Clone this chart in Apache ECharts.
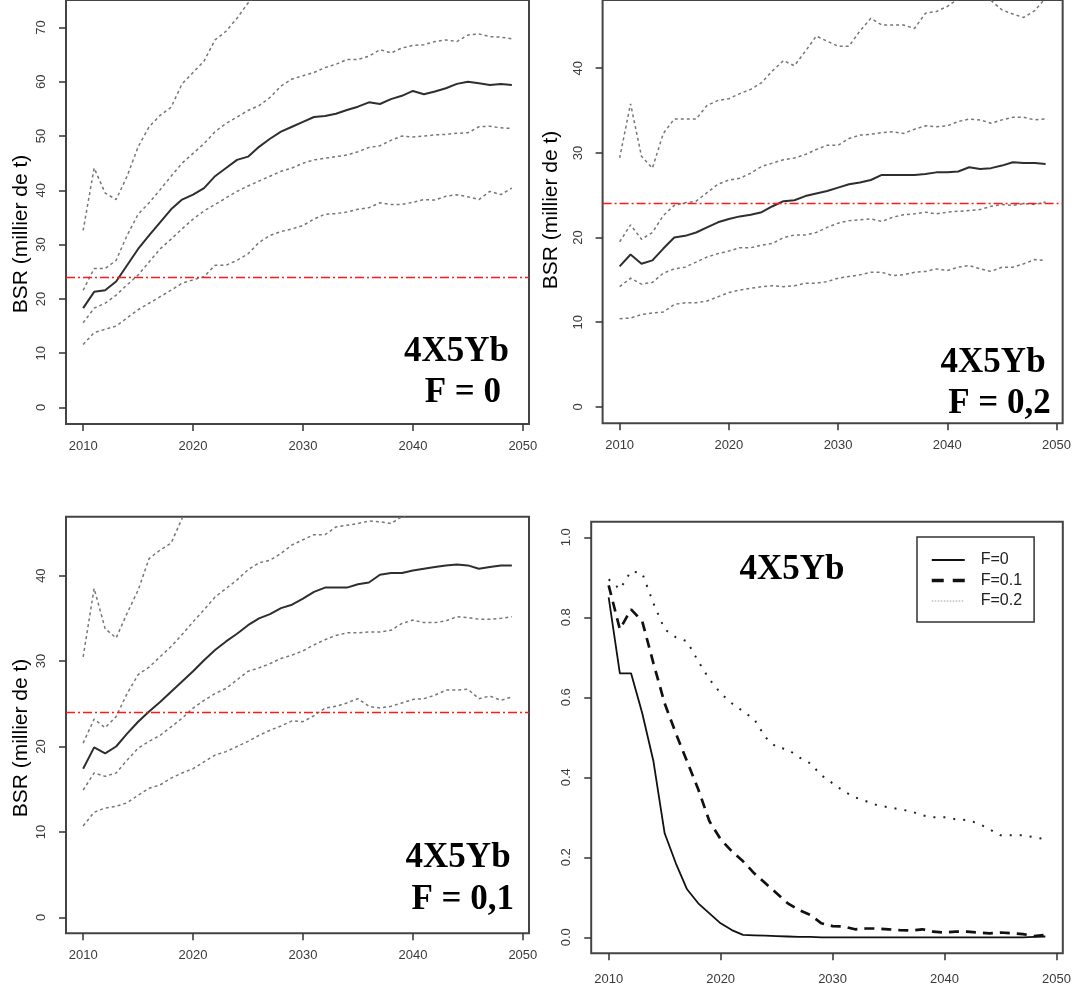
<!DOCTYPE html>
<html>
<head>
<meta charset="utf-8">
<title>BSR 4X5Yb</title>
<script src="https://cdn.jsdelivr.net/npm/echarts@6/dist/echarts.min.js"></script>
<style>
html, body { margin: 0; padding: 0; background: #fff; }
#main { width: 1074px; height: 987px; }
</style>
</head>
<body>
<div id="main"></div>
<script>
// années de projection
var years = [2010, 2011, 2012, 2013, 2014, 2015, 2016, 2017, 2018, 2019,
             2020, 2021, 2022, 2023, 2024, 2025, 2026, 2027, 2028, 2029,
             2030, 2031, 2032, 2033, 2034, 2035, 2036, 2037, 2038, 2039,
             2040, 2041, 2042, 2043, 2044, 2045, 2046, 2047, 2048, 2049];
var xTicks = [2010, 2020, 2030, 2040, 2050];
var blim = 24;   // ligne rouge

// F = 0
var p1Up97 = [32.6, 44.1, 39.5, 38.3, 42.6, 48.0, 51.7, 53.8, 55.3, 59.6, 61.7, 63.8, 67.7, 69.3, 71.7, 74.5, 76.5, 78.5, 80, 81.5,
              83, 84, 85, 86, 87, 88, 88.5, 89, 90, 90.5, 91, 91.5, 92, 92.3, 92.6, 93, 93.2, 93.5, 93.6, 93.8];
var p1Up75 = [21.6, 25.6, 25.6, 27.1, 31.7, 35.6, 37.7, 40.1, 42.6, 45.0, 46.8, 48.6, 50.8, 52.3, 53.5, 54.7, 55.6, 57.1, 59.2, 60.5,
              61.1, 61.7, 62.6, 63.2, 64.1, 64.1, 64.7, 65.9, 65.3, 66.2, 66.7, 66.8, 67.4, 67.7, 67.4, 68.6, 68.8, 68.3, 68.2, 67.9];
var p1Med  = [18.3, 21.3, 21.6, 23.2, 26.2, 29.2, 31.7, 34.1, 36.5, 38.3, 39.2, 40.4, 42.6, 44.1, 45.6, 46.2, 48.0, 49.5, 50.8, 51.7,
              52.6, 53.5, 53.7, 54.1, 54.8, 55.4, 56.2, 55.9, 56.8, 57.4, 58.3, 57.7, 58.2, 58.8, 59.6, 60.0, 59.7, 59.4, 59.6, 59.4];
var p1Lo25 = [15.6, 18.3, 19.2, 20.7, 22.6, 24.4, 26.8, 29.2, 31.0, 32.9, 34.7, 36.2, 37.4, 38.6, 39.8, 40.8, 41.7, 42.6, 43.5, 44.1,
              45.0, 45.6, 45.9, 46.2, 46.5, 47.1, 47.9, 48.2, 49.2, 50.0, 49.8, 50.0, 50.2, 50.3, 50.5, 50.6, 51.7, 51.8, 51.5, 51.4];
var p1Lo2  = [11.6, 13.8, 14.4, 15.0, 16.5, 18.0, 19.2, 20.4, 21.6, 22.9, 23.5, 24.1, 26.2, 26.2, 27.1, 28.3, 30.4, 31.7, 32.4, 32.9,
              33.5, 34.7, 35.6, 35.7, 36.0, 36.5, 36.8, 37.7, 37.4, 37.4, 37.8, 38.3, 38.2, 38.9, 39.2, 38.8, 38.3, 39.8, 39.2, 40.4];

// F = 0,2
var p2Up97 = [29.4, 35.8, 29.6, 28.2, 32.3, 34.0, 34.0, 34.0, 35.6, 36.2, 36.4, 37.0, 37.5, 38.3, 39.7, 40.9, 40.3, 42.0, 43.8, 43.2,
              42.6, 42.6, 44.4, 45.9, 45.1, 45.1, 45.1, 44.7, 46.5, 46.7, 47.3, 48.2, 48.6, 48.4, 48.0, 46.9, 46.4, 46.0, 46.8, 48.3];
var p2Up75 = [19.5, 21.5, 19.8, 20.6, 22.6, 23.8, 24.1, 24.3, 25.3, 26.3, 26.8, 27.0, 27.6, 28.4, 28.8, 29.2, 29.4, 29.8, 30.4, 30.9,
              30.9, 31.7, 32.1, 32.2, 32.4, 32.5, 32.3, 32.8, 33.2, 33.1, 33.2, 33.7, 34.0, 33.9, 33.5, 33.9, 34.2, 34.2, 33.9, 34.0];
var p2Med  = [16.6, 18.0, 16.9, 17.3, 18.7, 20.0, 20.2, 20.6, 21.2, 21.8, 22.2, 22.5, 22.7, 23.0, 23.7, 24.3, 24.4, 24.9, 25.2, 25.5,
              25.9, 26.3, 26.5, 26.8, 27.4, 27.4, 27.4, 27.4, 27.5, 27.7, 27.7, 27.8, 28.3, 28.1, 28.2, 28.5, 28.9, 28.8, 28.8, 28.7];
var p2Lo25 = [14.2, 15.2, 14.5, 14.7, 15.8, 16.3, 16.5, 17.1, 17.7, 18.1, 18.4, 18.8, 18.8, 19.1, 19.3, 20.0, 20.3, 20.3, 20.6, 21.2,
              21.7, 22.0, 22.1, 22.2, 21.9, 22.4, 22.7, 22.8, 23.0, 22.8, 23.0, 23.1, 23.2, 23.3, 23.7, 23.9, 23.8, 24.0, 23.9, 24.2];
var p2Lo2  = [10.4, 10.5, 10.9, 11.1, 11.2, 12.1, 12.3, 12.3, 12.5, 13.0, 13.5, 13.8, 14.0, 14.2, 14.3, 14.2, 14.3, 14.6, 14.6, 14.8,
              15.2, 15.4, 15.6, 15.9, 15.9, 15.5, 15.6, 15.9, 16.0, 16.3, 16.1, 16.5, 16.7, 16.3, 16.0, 16.5, 16.5, 16.9, 17.4, 17.3];

// F = 0,1
var p3Up97 = [30.5, 38.5, 33.8, 32.7, 35.6, 38.3, 42.0, 43.0, 43.8, 46.7, 48.5, 50, 51.5, 53, 54, 55, 56, 57, 58, 58.5,
              59, 59.5, 60, 60.5, 61, 61.3, 61.6, 62, 62.3, 62.6, 62.8, 63, 63.2, 63.4, 63.6, 63.8, 64, 64.1, 64.2, 64.3];
var p3Up75 = [20.4, 23.2, 22.2, 23.5, 26.2, 28.4, 29.3, 30.5, 31.7, 33.1, 34.6, 36.0, 37.5, 38.5, 39.5, 40.7, 41.5, 41.8, 42.6, 43.6,
              44.2, 44.8, 44.8, 45.7, 45.9, 46.1, 46.4, 46.3, 46.1, 46.9, 47.4, 47.8, 48.0, 48.4, 48.6, 48.8, 49.0, 49.2, 49.3, 49.5];
var p3Med  = [17.4, 19.9, 19.2, 20.0, 21.5, 22.9, 24.1, 25.2, 26.4, 27.6, 28.8, 30.1, 31.3, 32.3, 33.2, 34.2, 35.0, 35.5, 36.2, 36.6,
              37.3, 38.1, 38.6, 38.6, 38.6, 39.0, 39.2, 40.1, 40.3, 40.3, 40.6, 40.8, 41.0, 41.2, 41.3, 41.2, 40.8, 41.0, 41.2, 41.2];
var p3Lo25 = [14.9, 16.9, 16.5, 16.9, 18.4, 19.8, 20.6, 21.3, 22.3, 23.3, 24.5, 25.4, 26.2, 26.8, 27.8, 28.8, 29.2, 29.7, 30.3, 30.7,
              31.2, 31.9, 32.5, 33.0, 33.3, 33.3, 33.4, 33.4, 33.6, 34.4, 34.8, 34.5, 34.5, 34.7, 35.2, 35.1, 34.9, 34.9, 35.0, 35.2];
var p3Lo2  = [10.7, 12.3, 12.8, 13.0, 13.4, 14.3, 15.1, 15.5, 16.3, 16.9, 17.4, 18.2, 19.0, 19.4, 20.0, 20.6, 21.3, 21.9, 22.4, 23.0,
              22.9, 23.6, 24.5, 24.7, 25.1, 25.6, 24.7, 24.5, 24.7, 25.1, 25.5, 25.6, 26.0, 26.6, 26.6, 26.7, 25.6, 25.9, 25.4, 25.8];

// probabilité sous Blim
var probF0  = [0.85, 0.66, 0.66, 0.56, 0.44, 0.26, 0.185, 0.12, 0.085, 0.06, 0.035, 0.018, 0.006, 0.005, 0.004, 0.003, 0.002, 0.001, 0.001, 0,
               0, 0, 0, 0, 0, 0, 0, 0, 0, 0, 0, 0, 0, 0, 0, 0, 0, 0, 0.001, 0.002];
var probF01 = [0.88, 0.77, 0.82, 0.79, 0.685, 0.585, 0.51, 0.44, 0.37, 0.29, 0.245, 0.215, 0.19, 0.16, 0.135, 0.11, 0.085, 0.068, 0.056, 0.035,
               0.028, 0.027, 0.02, 0.022, 0.022, 0.02, 0.018, 0.017, 0.02, 0.014, 0.012, 0.014, 0.014, 0.012, 0.01, 0.012, 0.01, 0.008, 0.003, 0.006];
var probF02 = [0.895, 0.87, 0.915, 0.91, 0.835, 0.77, 0.75, 0.74, 0.69, 0.645, 0.61, 0.585, 0.565, 0.545, 0.5, 0.475, 0.47, 0.45, 0.435, 0.405,
               0.385, 0.365, 0.35, 0.34, 0.33, 0.325, 0.32, 0.315, 0.305, 0.3, 0.3, 0.295, 0.293, 0.285, 0.27, 0.255, 0.255, 0.255, 0.25, 0.245];

var sans = '"Liberation Sans", Arial, sans-serif';
var serif = '"Liberation Serif", "Times New Roman", serif';

function pairs(arr) {
	return years.map(function (y, k) { return [y, arr[k]]; });
}

function xAxisFor(idx, margin) {
	return {
		type: 'value', gridIndex: idx, min: 2008.44, max: 2050.56,
		axisLine: { show: false, onZero: false }, splitLine: { show: false },
		axisTick: { show: true, length: 7, customValues: xTicks, lineStyle: { color: '#333', width: 1.5 } },
		axisLabel: { customValues: xTicks, margin: margin, fontSize: 13, color: '#3a3a3a', fontFamily: sans,
			formatter: function (v) { return String(v); } }
	};
}

function yAxisFor(idx, min, max, ticks, fmt) {
	return {
		type: 'value', gridIndex: idx, min: min, max: max,
		axisLine: { show: false, onZero: false }, splitLine: { show: false },
		axisTick: { show: true, length: 7, customValues: ticks, lineStyle: { color: '#333', width: 1.5 } },
		axisLabel: { customValues: ticks, rotate: 90, margin: 18, fontSize: 13, color: '#3a3a3a', fontFamily: sans,
			formatter: fmt || function (v) { return String(v); } }
	};
}

function band(idx, arr) {
	return {
		type: 'line', xAxisIndex: idx, yAxisIndex: idx, data: pairs(arr), symbol: 'none',
		lineStyle: { color: '#777', width: 1.5, type: [3, 3] }
	};
}

function median(idx, arr) {
	return {
		type: 'line', xAxisIndex: idx, yAxisIndex: idx, data: pairs(arr), symbol: 'none', z: 3,
		lineStyle: { color: '#2e2e2e', width: 2 },
		markLine: {
			silent: true, symbol: ['none', 'none'], label: { show: false },
			lineStyle: { color: '#ff1a1a', width: 1.3, type: [9, 3, 2, 3] },
			data: [{ yAxis: blim }]
		}
	};
}

function gridBox(l, t, w, h) {
	return { left: l, top: t, width: w, height: h, show: true, borderColor: '#444', borderWidth: 2 };
}

function label(txt, x, y, align, font, rot) {
	return {
		type: 'text', x: x, y: y, rotation: rot || 0, z: 10,
		style: { text: txt, font: font, fill: '#000', textAlign: align, textVerticalAlign: 'middle' }
	};
}

var myChart = echarts.init(document.getElementById('main'));
var bsrTicks = [0, 10, 20, 30, 40, 50, 60, 70];
var bsrTicks2 = [0, 10, 20, 30, 40];
var probTicks = [0, 0.2, 0.4, 0.6, 0.8, 1.0];
var bold = 'bold 35px ' + serif;
var axisName = '21px ' + sans;

var option = {
	animation: false,
	backgroundColor: '#fff',
	grid: [
		gridBox(66, -5, 463, 429),
		gridBox(602.6, -5, 464.8, 428.3),
		gridBox(66, 516.7, 463, 416.6),
		gridBox(591.2, 521.7, 480.2, 431.6)
	],
	xAxis: [xAxisFor(0, 16), xAxisFor(1, 16), xAxisFor(2, 16), xAxisFor(3, 20)],
	yAxis: [
		yAxisFor(0, -3.04, 75.05, bsrTicks),
		yAxisFor(1, -1.94, 48.06, bsrTicks2),
		yAxisFor(2, -1.87, 46.9, bsrTicks2),
		yAxisFor(3, -0.04, 1.039, probTicks, function (v) { return v.toFixed(1); })
	],
	legend: {
		orient: 'vertical', left: 917, top: 537,
		padding: [15, 12, 13, 13], itemWidth: 33, itemHeight: 16, itemGap: 4.5,
		borderColor: '#333', borderWidth: 1.5, borderRadius: 0, backgroundColor: '#fff',
		selectedMode: false,
		itemStyle: { opacity: 0 },
		textStyle: { fontSize: 16, color: '#222', fontFamily: sans, padding: [0, 0, 0, 11] },
		data: [
			{ name: 'F=0', itemStyle: { opacity: 0 }, lineStyle: { color: '#111', width: 2, type: 'solid' } },
			{ name: 'F=0.1', itemStyle: { opacity: 0 }, lineStyle: { color: '#111', width: 3.5, type: [12, 9] } },
			{ name: 'F=0.2', itemStyle: { opacity: 0 }, lineStyle: { color: '#999', width: 1, type: [1.5, 1.5] } }
		]
	},
	series: [
		band(0, p1Up97), band(0, p1Up75), band(0, p1Lo25), band(0, p1Lo2), median(0, p1Med),
		band(1, p2Up97), band(1, p2Up75), band(1, p2Lo25), band(1, p2Lo2), median(1, p2Med),
		band(2, p3Up97), band(2, p3Up75), band(2, p3Lo25), band(2, p3Lo2), median(2, p3Med),
		{ name: 'F=0', type: 'line', xAxisIndex: 3, yAxisIndex: 3, data: pairs(probF0), symbol: 'none',
		  lineStyle: { color: '#111', width: 1.8 } },
		{ name: 'F=0.1', type: 'line', xAxisIndex: 3, yAxisIndex: 3, data: pairs(probF01), symbol: 'none',
		  lineStyle: { color: '#111', width: 2.7, type: [10, 7] } },
		{ name: 'F=0.2', type: 'line', xAxisIndex: 3, yAxisIndex: 3, data: pairs(probF02), symbol: 'none',
		  lineStyle: { color: '#222', width: 2, type: [2, 8] } }
	],
	graphic: [
		label('BSR (millier de t)', 21, 234, 'center', axisName, Math.PI / 2),
		label('BSR (millier de t)', 551, 210, 'center', axisName, Math.PI / 2),
		label('BSR (millier de t)', 21.5, 738, 'center', axisName, Math.PI / 2),
		label('4X5Yb', 509, 352, 'right', bold),
		label('F = 0', 501, 392.5, 'right', bold),
		label('4X5Yb', 1045.6, 363, 'right', bold),
		label('F = 0,2', 1050.8, 404, 'right', bold),
		label('4X5Yb', 510.6, 858, 'right', bold),
		label('F = 0,1', 514, 900, 'right', bold),
		label('4X5Yb', 792, 570, 'center', bold)
	]
};

myChart.setOption(option);
</script>
</body>
</html>
